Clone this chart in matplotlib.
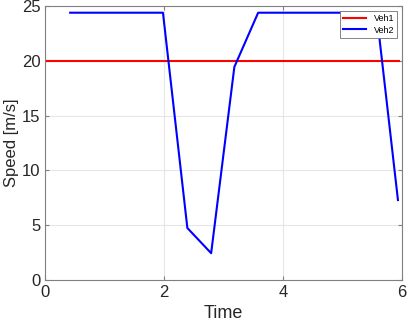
import matplotlib
matplotlib.use("Agg")
import matplotlib.pyplot as plt

# Data
t_veh1 = [0.0, 5.95]
v_veh1 = [20.0, 20.0]

t_veh2 = [0.42, 1.98, 2.39, 2.79, 3.18, 3.58, 5.57, 5.93]
v_veh2 = [24.4, 24.4, 4.75, 2.45, 19.45, 24.4, 24.4, 7.3]

plt.rcParams['font.family'] = ['Liberation Sans', 'DejaVu Sans']

fig = plt.figure(figsize=(4.07, 3.23), dpi=100)
ax = fig.add_axes([0.111, 0.133, 0.877, 0.848])

ax.plot(t_veh1, v_veh1, color='#ff0000', lw=1.5, label='Veh1')
ax.plot(t_veh2, v_veh2, color='#0000ff', lw=1.5, label='Veh2')

ax.set_xlim(0, 6)
ax.set_ylim(0, 25)
ax.set_xticks([0, 2, 4, 6])
ax.set_yticks([0, 5, 10, 15, 20, 25])
ax.grid(True, color='#e6e6e6', lw=0.8)
ax.set_axisbelow(True)
for s in ax.spines.values():
    s.set_color('#808080')
ax.tick_params(colors='#262626', labelsize=12, direction='in', length=3,
               top=True, right=True, color='#808080')
ax.set_xlabel('Time', fontsize=13, color='#262626')
ax.set_ylabel('Speed [m/s]', fontsize=12, color='#262626', labelpad=2)

leg = ax.legend(loc='upper right', fontsize=6.5, fancybox=False, framealpha=1,
                edgecolor='#707070', handlelength=2.6, borderpad=0.35,
                labelspacing=0.25, borderaxespad=0.55)
leg.get_frame().set_linewidth(0.6)

fig.savefig('out.png', dpi=100)
